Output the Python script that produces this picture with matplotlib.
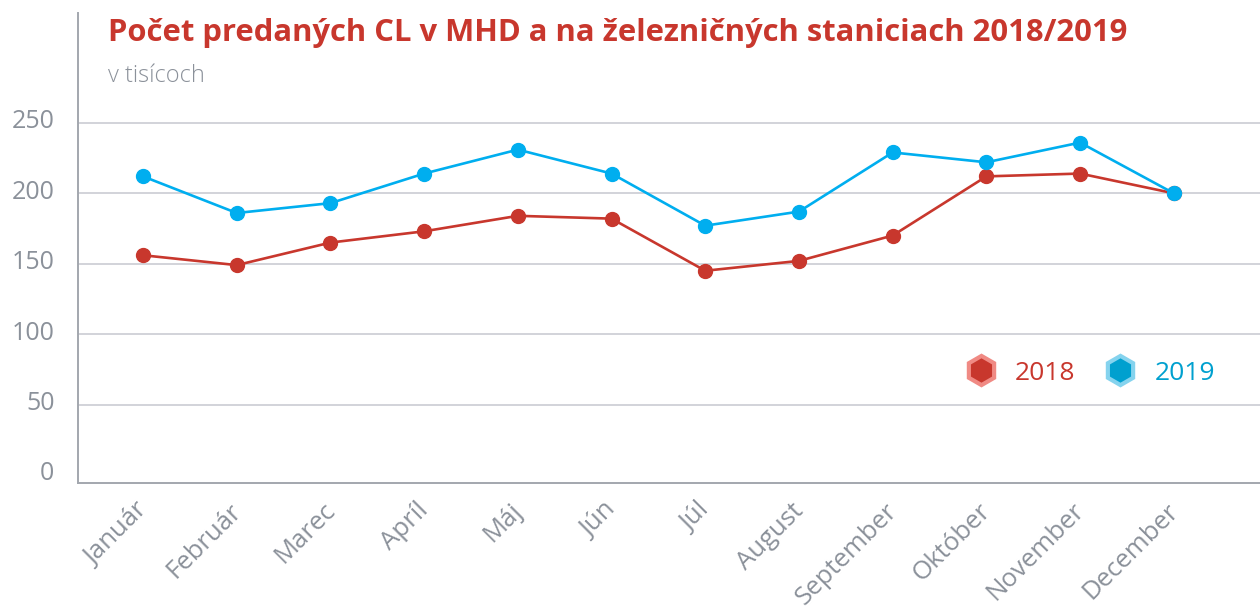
import matplotlib
matplotlib.use('Agg')
import matplotlib.pyplot as plt
from matplotlib.lines import Line2D
from matplotlib.transforms import ScaledTranslation

plt.rcParams['font.family'] = ['Open Sans', 'DejaVu Sans']

# údaje (v tisícoch)
mesiace = ['Január', 'Február', 'Marec', 'Apríl', 'Máj', 'Jún', 'Júl',
           'August', 'September', 'Október', 'November', 'December']
hodnoty_2018 = [156, 149, 165, 173, 184, 182, 145, 152, 170, 212, 214, 200]
hodnoty_2019 = [212, 186, 193, 214, 231, 214, 177, 187, 229, 222, 236, 200]
y_ticks = [0, 50, 100, 150, 200, 250]

title = 'Počet predaných CL v MHD a na železničných staniciach 2018/2019'
subtitle = 'v tisícoch'

RED = '#c8372d'
RED_LIGHT = '#f08a84'
BLUE = '#00aeef'
BLUE_DARK = '#00a0cf'
BLUE_LIGHT = '#85d3ee'
GRAY = '#8b919a'
GRID = '#d2d3d9'
SPINE = '#a3a7ae'

fig = plt.figure(figsize=(12.6, 6.12), dpi=100)
ax = fig.add_axes([78 / 1260, (612 - 483) / 612, 1 - 78 / 1260, (483 - 13) / 612])

x = list(range(len(mesiace)))
ax.plot(x, hodnoty_2018, color=RED, lw=1.9, marker='o', ms=10, zorder=3)
ax.plot(x, hodnoty_2019, color=BLUE, lw=1.9, marker='o', ms=10, zorder=3)

ax.set_xlim(-0.694, 11.92)
ax.set_ylim(-5.7, 328)

ax.set_yticks(y_ticks)
ax.set_yticklabels([str(v) for v in y_ticks])
for v in y_ticks[1:]:
    ax.axhline(v, color=GRID, lw=1.4, zorder=1)

ax.set_xticks(x)
ax.set_xticklabels(mesiace, rotation=45, ha='right', va='top', rotation_mode='anchor')

ax.tick_params(axis='both', length=0, colors=GRAY)
ax.tick_params(axis='y', pad=17, labelsize=18)
ax.tick_params(axis='x', pad=11, labelsize=18.5)
# popisky osi y kúsok nad čiarou mriežky
up = ScaledTranslation(0, 4 / 100, fig.dpi_scale_trans)
for lab in ax.get_yticklabels():
    lab.set_transform(lab.get_transform() + up)
# posun popiskov osi x trochu doľava
left = ScaledTranslation(-8 / 100, 0, fig.dpi_scale_trans)
for lab in ax.get_xticklabels():
    lab.set_transform(lab.get_transform() + left)

for s in ['top', 'right']:
    ax.spines[s].set_visible(False)
for s in ['left', 'bottom']:
    ax.spines[s].set_color(SPINE)
    ax.spines[s].set_linewidth(1.4)

fig.text(108 / 1260, 1 - 33 / 612, title, color=RED, fontsize=22.3, fontweight='bold',
         ha='left', va='center')
fig.text(108 / 1260, 1 - 76 / 612, subtitle, color=GRAY, fontsize=17, fontweight='light',
         ha='left', va='center')

handles = [
    Line2D([], [], ls='none', marker='h', ms=21, markerfacecolor=RED,
           markeredgecolor=RED_LIGHT, markeredgewidth=3, label='2018'),
    Line2D([], [], ls='none', marker='h', ms=21, markerfacecolor=BLUE_DARK,
           markeredgecolor=BLUE_LIGHT, markeredgewidth=3, label='2019'),
]
leg = ax.legend(handles=handles, ncol=2, frameon=False, loc='center left',
                bbox_to_anchor=(966 / 1260, 1 - 373 / 612), bbox_transform=fig.transFigure,
                fontsize=19, handlelength=1.1, handletextpad=0.75, columnspacing=1.15,
                borderpad=0, borderaxespad=0)
for t, c in zip(leg.get_texts(), [RED, BLUE_DARK]):
    t.set_color(c)

fig.savefig('out.png', dpi=100)
